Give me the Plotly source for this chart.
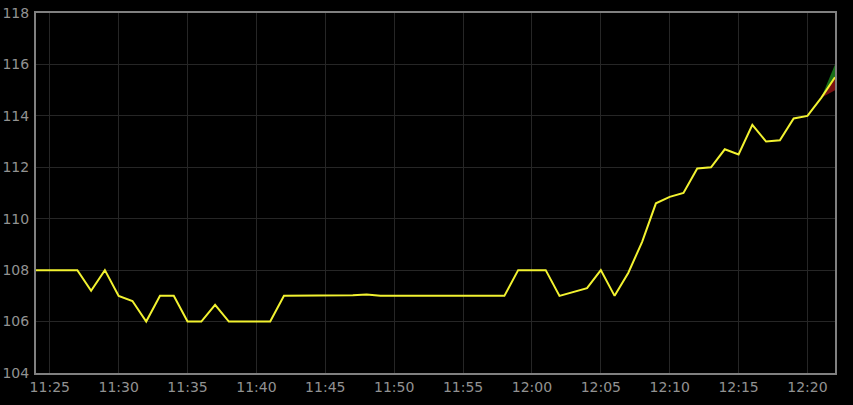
import plotly.graph_objects as go

# minute timestamps 11:24 .. 12:22
times = []
for m in range(24, 83):
    h = 11 + m // 60
    times.append(f"2024-01-01 {h:02d}:{m % 60:02d}")

prices = [
    108, 108, 108, 108, 107.2, 108, 107, 106.8, 106, 107,
    107, 106, 106, 106.65, 106, 106, 106, 106, 107, 107,
    107, 107, 107, 107.02, 107.05, 107, 107, 107, 107, 107,
    107, 107, 107, 107, 107, 108, 108, 108, 107, 107.15,
    107.3, 108, 107, 107.9, 109.1, 110.6, 110.85, 111.0, 111.95, 112.0,
    112.7, 112.5, 113.65, 113.0, 113.05, 113.9, 114.0, 114.7, 115.5,
]

# small band on the last segment
band_x = ["2024-01-01 12:21", "2024-01-01 12:22"]
band_mid = [114.7, 115.5]
band_hi = [114.7, 116.0]
band_lo = [114.7, 115.0]

y_ticks = [104, 106, 108, 110, 112, 114, 116, 118]

fig = go.Figure()

fig.add_trace(go.Scatter(x=band_x, y=band_mid, mode="lines", line=dict(width=0),
                         showlegend=False, hoverinfo="skip"))
fig.add_trace(go.Scatter(x=band_x, y=band_hi, mode="lines", line=dict(width=0),
                         fill="tonexty", fillcolor="rgba(30,140,30,0.8)",
                         showlegend=False, hoverinfo="skip"))
fig.add_trace(go.Scatter(x=band_x, y=band_mid, mode="lines", line=dict(width=0),
                         showlegend=False, hoverinfo="skip"))
fig.add_trace(go.Scatter(x=band_x, y=band_lo, mode="lines", line=dict(width=0),
                         fill="tonexty", fillcolor="rgba(150,20,20,0.8)",
                         showlegend=False, hoverinfo="skip"))

fig.add_trace(go.Scatter(x=times, y=prices, mode="lines",
                         line=dict(color="#f2f230", width=2),
                         showlegend=False))

fig.update_layout(
    width=853, height=405,
    margin=dict(l=36, r=18, t=13, b=32),
    paper_bgcolor="black", plot_bgcolor="black",
    font=dict(family="DejaVu Sans", size=14, color="#929292"),
    xaxis=dict(
        type="date", automargin=False,
        range=["2024-01-01 11:24", "2024-01-01 12:22"],
        tick0="2024-01-01 11:25", dtick=300000, tickformat="%H:%M",
        showgrid=True, gridcolor="#262626", gridwidth=1,
        showline=True, linecolor="#808080", linewidth=2, mirror=True,
        ticks="", zeroline=False,
    ),
    yaxis=dict(
        range=[104, 118], tickvals=y_ticks, automargin=False,
        showgrid=True, gridcolor="#262626", gridwidth=1,
        showline=True, linecolor="#808080", linewidth=2, mirror=True,
        ticks="", zeroline=False, ticklabelstandoff=2,
    ),
)

fig.write_html("out.html", config={"displayModeBar": False},
               post_script="document.body.style.margin='0';")
